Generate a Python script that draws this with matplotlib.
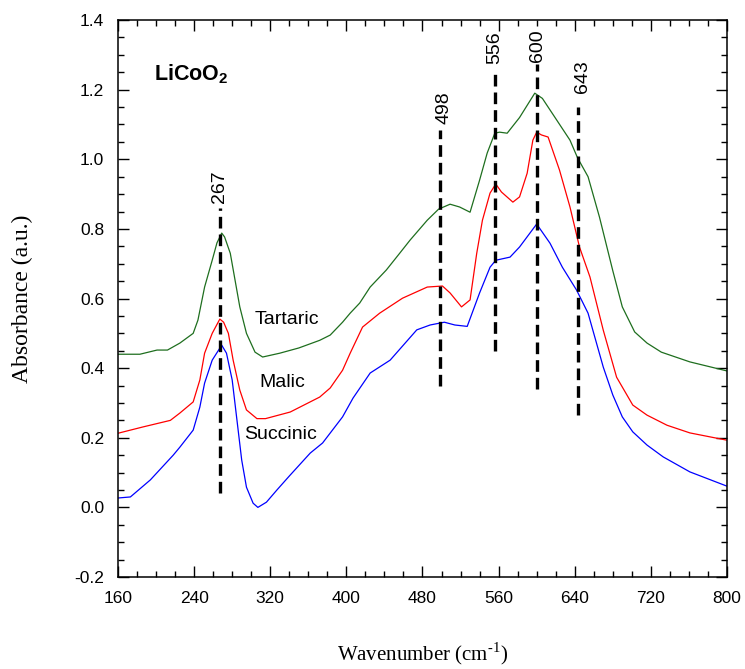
import matplotlib
matplotlib.use("Agg")
import matplotlib.pyplot as plt
from matplotlib.ticker import MultipleLocator

# Tartaric (vert)
wn_tart = [160, 183, 201, 212, 225, 239, 244, 251, 259, 264, 269, 272, 278, 283, 288, 295, 304, 312,
           330, 350, 372, 383, 396, 404, 414, 425, 442, 456, 467, 485, 497, 509, 519, 530, 540, 548,
           556, 561, 569, 582, 598, 606, 621, 635, 643, 654, 666, 680, 690, 703, 716, 731, 761, 800]
ab_tart = [0.44, 0.44, 0.452, 0.452, 0.472, 0.50, 0.538, 0.633, 0.71, 0.76, 0.788, 0.777, 0.73, 0.653,
           0.576, 0.50, 0.446, 0.432, 0.443, 0.458, 0.48, 0.495, 0.532, 0.558, 0.587, 0.633, 0.682,
           0.73, 0.768, 0.825, 0.857, 0.871, 0.863, 0.848, 0.94, 1.018, 1.075, 1.078, 1.075, 1.12,
           1.19, 1.175, 1.113, 1.055, 1.004, 0.95, 0.834, 0.68, 0.576, 0.504, 0.472, 0.446, 0.418, 0.392]

# Malic (rouge)
wn_mal = [160, 186, 215, 225, 239, 246, 251, 259, 267, 271, 276, 281, 288, 295, 306, 315, 341, 372,
          383, 396, 404, 417, 435, 459, 485, 501, 509, 521, 530, 537, 543, 551, 557, 563, 575, 582,
          590, 596, 600, 605, 612, 624, 635, 645, 656, 670, 684, 701, 716, 737, 761, 800]
ab_mal = [0.213, 0.231, 0.25, 0.271, 0.303, 0.366, 0.443, 0.50, 0.541, 0.532, 0.50, 0.423, 0.337,
          0.28, 0.255, 0.255, 0.274, 0.317, 0.343, 0.394, 0.443, 0.518, 0.558, 0.601, 0.633, 0.636,
          0.616, 0.576, 0.596, 0.73, 0.825, 0.903, 0.929, 0.906, 0.877, 0.892, 0.96, 1.055, 1.078,
          1.07, 1.064, 0.969, 0.863, 0.748, 0.662, 0.509, 0.374, 0.294, 0.265, 0.236, 0.214, 0.193]

# Succinic (bleu)
wn_suc = [160, 173, 194, 218, 225, 239, 246, 251, 259, 269, 274, 280, 285, 290, 295, 302, 307, 316,
          327, 340, 362, 375, 396, 407, 425, 446, 474, 488, 503, 514, 527, 540, 551, 557, 572, 582,
          600, 614, 627, 642, 654, 670, 680, 690, 701, 716, 733, 761, 800]
ab_suc = [0.027, 0.03, 0.079, 0.15, 0.173, 0.222, 0.288, 0.357, 0.423, 0.466, 0.443, 0.366, 0.251,
          0.136, 0.058, 0.012, 0.0, 0.015, 0.05, 0.09, 0.156, 0.185, 0.26, 0.314, 0.386, 0.423, 0.51,
          0.524, 0.532, 0.524, 0.52, 0.616, 0.69, 0.71, 0.719, 0.748, 0.814, 0.759, 0.69, 0.624,
          0.558, 0.403, 0.323, 0.26, 0.217, 0.179, 0.145, 0.102, 0.061]

# Lignes pointillées : position, bas, haut
pics = [267, 498, 556, 600, 643]
pic_bas = [0.04, 0.35, 0.45, 0.34, 0.265]
pic_haut = [0.86, 1.085, 1.255, 1.275, 1.15]

plt.rcParams['font.family'] = ['Liberation Sans', 'DejaVu Sans']
plt.rcParams['mathtext.fontset'] = 'custom'
plt.rcParams['mathtext.rm'] = 'Liberation Serif'
plt.rcParams['mathtext.bf'] = 'Liberation Sans:bold'

fig = plt.figure(figsize=(7.45, 6.69), dpi=100)
ax = fig.add_axes([0.1584, 0.1375, 0.8174, 0.8325])

ax.plot(wn_tart, ab_tart, color='#1e6e1e', lw=0.9)
ax.plot(wn_mal, ab_mal, color='#ff0000', lw=0.9)
ax.plot(wn_suc, ab_suc, color='#0000ff', lw=0.9)

for p, b, h in zip(pics, pic_bas, pic_haut):
    ax.plot([p, p], [b, h], color='black', lw=2.4, linestyle=(0, (3.5, 1.8)))

# Etiquettes des pics
ax.text(267, 0.875, '267', rotation=90, ha='center', va='bottom', fontsize=14)
ax.text(503, 1.10, '498', rotation=90, ha='center', va='bottom', fontsize=14)
ax.text(556, 1.275, '556', rotation=90, ha='center', va='bottom', fontsize=14)
ax.text(601, 1.28, '600', rotation=90, ha='center', va='bottom', fontsize=14)
ax.text(648, 1.19, '643', rotation=90, ha='center', va='bottom', fontsize=14)

ax.text(198, 1.245, r'LiCoO$_\mathbf{2}$', fontsize=15.5, fontweight='bold', va='center')
ax.text(337, 0.541, 'Tartaric', fontsize=14, ha='center', va='center')
ax.text(333, 0.36, 'Malic', fontsize=14, ha='center', va='center')
ax.text(331, 0.21, 'Succinic', fontsize=14, ha='center', va='center')

ax.set_xlim(160, 800)
ax.set_ylim(-0.2, 1.4)
ax.xaxis.set_major_locator(MultipleLocator(80))
ax.xaxis.set_minor_locator(MultipleLocator(20))
ax.yaxis.set_major_locator(MultipleLocator(0.2))
ax.yaxis.set_minor_locator(MultipleLocator(0.05))
ax.yaxis.set_major_formatter(plt.FuncFormatter(lambda v, pos: f'{v:.1f}'))
ax.tick_params(which='both', direction='in', top=True, right=True, labelsize=12.5, width=1.0)
ax.tick_params(which='major', length=8, pad=10)
ax.tick_params(which='minor', length=4.5)
for s in ax.spines.values():
    s.set_linewidth(1.1)

ax.set_xlabel('Wavenumber (cm$^{\\text{-}1}$)', fontfamily='Liberation Serif', fontsize=15, labelpad=25)
ax.set_ylabel('Absorbance (a.u.)', fontfamily='Liberation Serif', fontsize=17, labelpad=30)

fig.savefig('out.png', dpi=100)
